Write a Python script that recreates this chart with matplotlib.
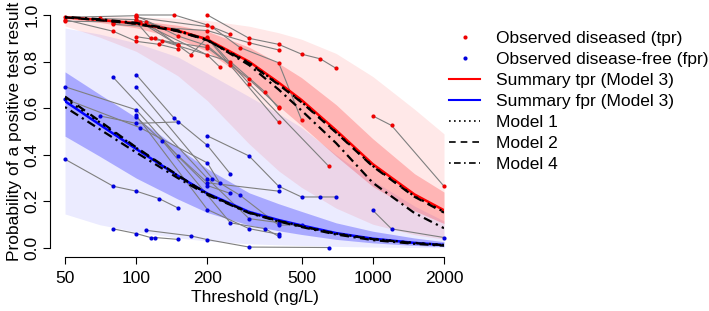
import matplotlib
matplotlib.use("Agg")
import matplotlib.pyplot as plt
from matplotlib.lines import Line2D
import numpy as np

plt.rcParams['font.family'] = ['Liberation Sans', 'DejaVu Sans']

# ---- individual studies: thresholds, observed tpr, observed fpr ----
study_thresholds = [
    [50, 100, 150, 200, 250],
    [50, 80, 100, 125, 150],
    [50, 104, 200, 225],
    [70, 100, 150],
    [80, 100, 115, 120, 150],
    [110, 170, 200, 300, 650],
    [100, 145, 200, 250],
    [200, 300, 400, 500, 600, 700],
    [1000, 1200, 2000],
    [80, 200, 300, 400],
    [100, 210, 275, 400, 500],
    [100, 200, 300, 400],
    [129, 250, 350, 400],
    [100, 200, 400],
]
study_tpr = [
    [0.99, 0.997, 0.91, 0.868, 0.785],
    [0.98, 0.93, 0.887, 0.874, 0.854],
    [0.973, 0.97, 0.828, 0.778],
    [0.985, 0.98, 0.872],
    [0.965, 0.97, 0.90, 0.90, 0.872],
    [0.97, 0.83, 0.904, 0.706, 0.352],
    [1.0, 1.0, 0.957, 0.917],
    [1.0, 0.90, 0.874, 0.832, 0.812, 0.771],
    [0.567, 0.526, 0.265],
    [0.96, 0.933, 0.881, 0.85],
    [0.99, 0.947, 0.86, 0.795, 0.549],
    [0.907, 0.86, 0.725, 0.606],
    [0.888, 0.80, 0.670, 0.599],
    [0.98, 0.90, 0.539],
]
study_fpr = [
    [0.692, 0.593, 0.394, 0.268, 0.234],
    [0.381, 0.265, 0.244, 0.212, 0.172],
    [0.64, 0.516, 0.365, 0.28],
    [0.567, 0.535, 0.541],
    [0.082, 0.062, 0.045, 0.045, 0.037],
    [0.076, 0.052, 0.036, 0.004, 0.002],
    [0.744, 0.556, 0.44, 0.318],
    [0.481, 0.395, 0.265, 0.219, 0.219, 0.219],
    [0.162, 0.082, 0.045],
    [0.732, 0.298, 0.126, 0.109],
    [0.69, 0.298, 0.226, 0.098, 0.10],
    [0.569, 0.165, 0.083, 0.059],
    [0.46, 0.108, 0.083, 0.050],
    [0.562, 0.28, 0.244],
]

# ---- summary curves read at a grid of thresholds ----
grid = [50, 70, 100, 150, 200, 300, 400, 500, 700, 1000, 1500, 2000]

tpr_m3 = [0.990, 0.979, 0.964, 0.933, 0.895, 0.800, 0.710, 0.635, 0.505, 0.360, 0.230, 0.162]
tpr_m1 = [0.990, 0.979, 0.963, 0.931, 0.892, 0.795, 0.703, 0.627, 0.497, 0.352, 0.222, 0.155]
tpr_m2 = [0.990, 0.978, 0.962, 0.930, 0.891, 0.793, 0.701, 0.625, 0.495, 0.350, 0.220, 0.152]
tpr_m4 = [0.992, 0.982, 0.966, 0.934, 0.893, 0.785, 0.680, 0.590, 0.450, 0.280, 0.150, 0.085]
tpr_ci_lo = [0.984, 0.968, 0.945, 0.899, 0.844, 0.718, 0.609, 0.525, 0.394, 0.264, 0.160, 0.105]
tpr_ci_hi = [0.994, 0.987, 0.977, 0.956, 0.930, 0.862, 0.793, 0.731, 0.615, 0.469, 0.319, 0.240]
tpr_pi_lo = [0.953, 0.905, 0.844, 0.739, 0.632, 0.447, 0.331, 0.260, 0.171, 0.102, 0.057, 0.038]
tpr_pi_hi = [0.998, 0.996, 0.993, 0.986, 0.977, 0.952, 0.924, 0.896, 0.835, 0.736, 0.596, 0.490]

fpr_m3 = [0.630, 0.530, 0.425, 0.310, 0.234, 0.155, 0.120, 0.097, 0.064, 0.040, 0.022, 0.013]
fpr_m1 = [0.642, 0.540, 0.430, 0.310, 0.232, 0.152, 0.117, 0.094, 0.062, 0.039, 0.022, 0.013]
fpr_m2 = [0.650, 0.545, 0.432, 0.312, 0.232, 0.152, 0.116, 0.093, 0.061, 0.038, 0.021, 0.012]
fpr_m4 = [0.605, 0.510, 0.410, 0.300, 0.228, 0.150, 0.114, 0.090, 0.058, 0.034, 0.018, 0.010]
fpr_ci_lo = [0.480, 0.394, 0.300, 0.210, 0.152, 0.098, 0.074, 0.058, 0.037, 0.022, 0.011, 0.006]
fpr_ci_hi = [0.756, 0.660, 0.560, 0.430, 0.340, 0.237, 0.190, 0.157, 0.108, 0.072, 0.043, 0.027]
fpr_pi_lo = [0.146, 0.100, 0.069, 0.043, 0.030, 0.018, 0.0135, 0.0107, 0.0068, 0.004, 0.002, 0.0013]
fpr_pi_hi = [0.944, 0.918, 0.880, 0.820, 0.750, 0.650, 0.577, 0.517, 0.400, 0.290, 0.180, 0.116]

x_ticks = [50, 100, 200, 500, 1000, 2000]
y_ticks = [0.0, 0.2, 0.4, 0.6, 0.8, 1.0]

legend_labels = ["Observed diseased (tpr)", "Observed disease-free (fpr)",
                 "Summary tpr (Model 3)", "Summary fpr (Model 3)",
                 "Model 1", "Model 2", "Model 4"]

FS = 12.5
fig = plt.figure(figsize=(7.09, 3.11), dpi=100)
ax = fig.add_axes([65/709, 1-248/311, (444-65)/709, (248-15)/311])
ax.set_xscale('log')
ax.set_xlim(50, 2000)
ax.set_ylim(0, 1)

# bands
ax.fill_between(grid, fpr_pi_lo, fpr_pi_hi, color=(0, 0, 1), alpha=0.08, lw=0)
ax.fill_between(grid, tpr_pi_lo, tpr_pi_hi, color=(1, 0, 0), alpha=0.09, lw=0)
ax.fill_between(grid, fpr_ci_lo, fpr_ci_hi, color=(0, 0, 1), alpha=0.28, lw=0)
ax.fill_between(grid, tpr_ci_lo, tpr_ci_hi, color=(1, 0, 0), alpha=0.22, lw=0)

# studies
for t, tp, fp in zip(study_thresholds, study_tpr, study_fpr):
    ax.plot(t, tp, color='#7f7f7f', lw=0.8, zorder=3, clip_on=False)
    ax.plot(t, fp, color='#7f7f7f', lw=0.8, zorder=3, clip_on=False)
for t, tp, fp in zip(study_thresholds, study_tpr, study_fpr):
    ax.plot(t, tp, 'o', color='#ee0000', ms=3.0, mew=0, zorder=4, clip_on=False)
    ax.plot(t, fp, 'o', color='#0000dd', ms=3.0, mew=0, zorder=4, clip_on=False)

# summary curves
ax.plot(grid, tpr_m3, color='#ff0000', lw=1.8, zorder=5)
ax.plot(grid, fpr_m3, color='#0000ff', lw=1.8, zorder=5)
for vals_t, vals_f, ls in [(tpr_m1, fpr_m1, (0, (1, 2))),
                           (tpr_m2, fpr_m2, (0, (4, 3))),
                           (tpr_m4, fpr_m4, (0, (1, 2, 4, 2)))]:
    ax.plot(grid, vals_t, color='black', lw=1.6, ls=ls, zorder=6)
    ax.plot(grid, vals_f, color='black', lw=1.6, ls=ls, zorder=6)

# R-like axes
for s in ['top', 'right']:
    ax.spines[s].set_visible(False)
ax.spines['left'].set_position(('outward', 10.8))
ax.spines['bottom'].set_position(('outward', 6.5))
ax.spines['left'].set_bounds(0, 1)
ax.spines['bottom'].set_bounds(50, 2000)
ax.set_xticks(x_ticks)
ax.set_xticklabels([str(v) for v in x_ticks], fontsize=FS)
ax.minorticks_off()
ax.set_yticks(y_ticks)
ax.set_yticklabels([f"{v:.1f}" for v in y_ticks], fontsize=FS, rotation=90, va='center')
ax.tick_params(axis='x', length=5, width=0.8, pad=5)
ax.tick_params(axis='y', length=5, width=0.8, pad=2.5)
ax.set_xlabel("Threshold (ng/L)", fontsize=FS, labelpad=3)
ax.set_ylabel("Probability of a positive test result", fontsize=FS, labelpad=2)

handles = [
    Line2D([], [], ls='none', marker='o', color='#ee0000', ms=3.0, mew=0),
    Line2D([], [], ls='none', marker='o', color='#0000dd', ms=3.0, mew=0),
    Line2D([], [], color='#ff0000', lw=1.5),
    Line2D([], [], color='#0000ff', lw=1.5),
    Line2D([], [], color='black', lw=1.2, ls=(0, (1, 2))),
    Line2D([], [], color='black', lw=1.2, ls=(0, (4, 3))),
    Line2D([], [], color='black', lw=1.2, ls=(0, (1, 2, 4, 2))),
]
fig.legend(handles, legend_labels, loc='upper left', bbox_to_anchor=(449/709, 1-31/311),
           frameon=False, fontsize=FS, handlelength=1.8, handletextpad=0.9,
           labelspacing=0.34, borderpad=0, borderaxespad=0)

fig.savefig("out.png", dpi=100)
